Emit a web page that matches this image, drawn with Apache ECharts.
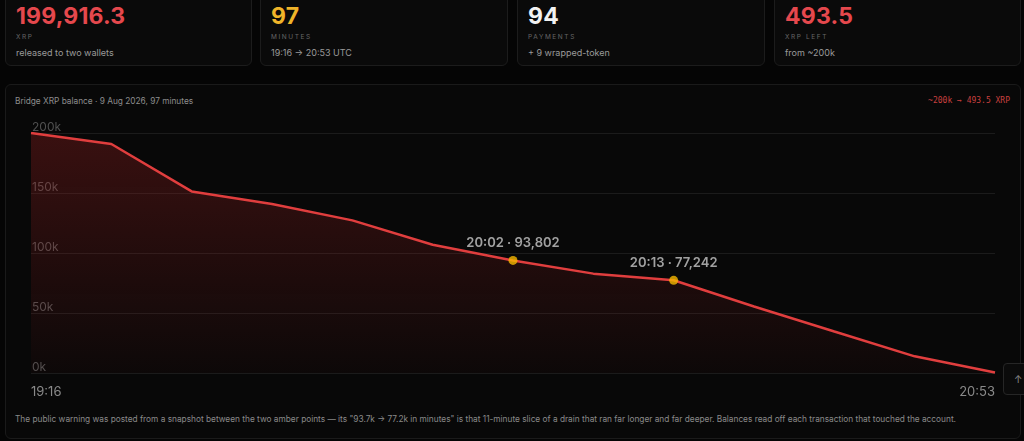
<!DOCTYPE html>
<html>
<head>
<meta charset="utf-8">
<script src="https://cdn.jsdelivr.net/npm/echarts@6/dist/echarts.min.js"></script>
<style>
  html, body { margin:0; padding:0; background:#050505; width:1024px; height:441px; overflow:hidden; font-family: Inter, "Liberation Sans", sans-serif; }
  .card { position:absolute; top:-10px; height:76px; background:#0a0a0a; border:1px solid #1c1c1c; border-radius:6px; box-sizing:border-box; }
  .big { position:absolute; left:10px; top:12px; font-size:23px; font-weight:700; line-height:27px; letter-spacing:0.2px; }
  .lab { position:absolute; left:10px; top:42px; font-size:6.5px; letter-spacing:1.6px; color:#666; }
  .sub { position:absolute; left:10px; top:56px; font-size:9px; color:#9a9a9a; }
  #panel { position:absolute; left:5px; top:84px; width:1016px; height:355px; background:#080808; border:1px solid #1a1a1a; border-radius:6px; box-sizing:border-box; }
  #title { position:absolute; left:15px; top:96px; font-size:8.3px; color:#8d8d8d; }
  #range { position:absolute; right:14px; top:96px; font-size:8px; color:#c9403f; font-family:"DejaVu Sans Mono", monospace; }
  #note { position:absolute; left:15px; top:414px; font-size:8.3px; color:#8a8a8a; white-space:nowrap; }
  #btn { position:absolute; left:1003px; top:363px; width:30px; height:32px; border:1px solid #262626; border-radius:4px; background:#0b0b0b; box-sizing:border-box; color:#888; font-size:10px; }
  #btn span { position:absolute; left:10px; top:9px; }
  #chart { position:absolute; left:0; top:0; width:1024px; height:441px; }
</style>
</head>
<body>
<div class="card" style="left:5px;width:247px;"><div class="big" style="color:#e5484d">199,916.3</div><div class="lab">XRP</div><div class="sub">released to two wallets</div></div>
<div class="card" style="left:260px;width:248px;"><div class="big" style="color:#f0b429">97</div><div class="lab">MINUTES</div><div class="sub">19:16 → 20:53 UTC</div></div>
<div class="card" style="left:517px;width:248px;"><div class="big" style="color:#f2f2f2">94</div><div class="lab">PAYMENTS</div><div class="sub">+ 9 wrapped-token</div></div>
<div class="card" style="left:774px;width:247px;"><div class="big" style="color:#e5484d">493.5</div><div class="lab">XRP LEFT</div><div class="sub">from ~200k</div></div>
<div id="panel"></div>
<div id="title">Bridge XRP balance · 9 Aug 2026, 97 minutes</div>
<div id="range">~200k → 493.5 XRP</div>
<div id="note">The public warning was posted from a snapshot between the two amber points — its "93.7k → 77.2k in minutes" is that 11-minute slice of a drain that ran far longer and far deeper. Balances read off each transaction that touched the account.</div>
<div id="chart"></div>
<div id="btn"><span>↑</span></div>
<script>
const times = ['19:16','19:24','19:33','19:41','19:48','19:55','20:02','20:08','20:13','20:24','20:35','20:45','20:53'];
const balances = [199916.3, 190800, 151300, 140800, 127200, 106900, 93802, 82800, 77242, 55400, 34600, 13900, 493.5];
const amberTimes = ['20:02','20:13'];
const amberValues = [93802, 77242];
const yTicks = [0, 50000, 100000, 150000, 200000];

const chart = echarts.init(document.getElementById('chart'), null, {renderer:'canvas'});
chart.setOption({
  backgroundColor: 'transparent',
  animation: false,
  grid: { left: 31, right: 29, top: 133, bottom: 68 },
  xAxis: {
    type: 'category', data: times, boundaryGap: false,
    axisLine: { show: false }, axisTick: { show: false },
    axisLabel: {
      color: '#8a8a8a', fontSize: 13, margin: 13, fontFamily: 'Inter',
      interval: (i) => i === 0 || i === times.length - 1,
      alignMinLabel: 'left', alignMaxLabel: 'right'
    },
    splitLine: { show: false }
  },
  yAxis: {
    type: 'value', min: yTicks[0], max: yTicks[yTicks.length-1], interval: 50000,
    axisLine: { show: false }, axisTick: { show: false },
    axisLabel: {
      inside: true, color: '#505050', fontSize: 12, fontFamily: 'Inter',
      verticalAlign: 'bottom', margin: 1, padding: [0,0,0,0],
      formatter: (v) => (v/1000) + 'k'
    },
    splitLine: { lineStyle: { color: '#1b1b1b', width: 1 } }
  },
  series: [
    {
      type: 'line', data: balances, symbol: 'none',
      lineStyle: { color: '#e03e3e', width: 2.5 },
      areaStyle: {
        color: new echarts.graphic.LinearGradient(0,0,0,1,[
          {offset:0, color:'rgba(165,35,35,0.45)'},
          {offset:1, color:'rgba(165,35,35,0.05)'}
        ])
      },
      z: 2
    },
    {
      type: 'scatter',
      data: amberTimes.map((t,i) => [t, amberValues[i]]),
      symbolSize: 9,
      itemStyle: { color: '#f5b800' },
      label: {
        show: true, position: 'top', distance: 6,
        color: '#c8c8c8', fontSize: 13, fontWeight: 600, fontFamily: 'Inter',
        formatter: (p) => p.value[0] + ' · ' + p.value[1].toLocaleString('en-US')
      },
      z: 3
    }
  ]
});
</script>
</body>
</html>
